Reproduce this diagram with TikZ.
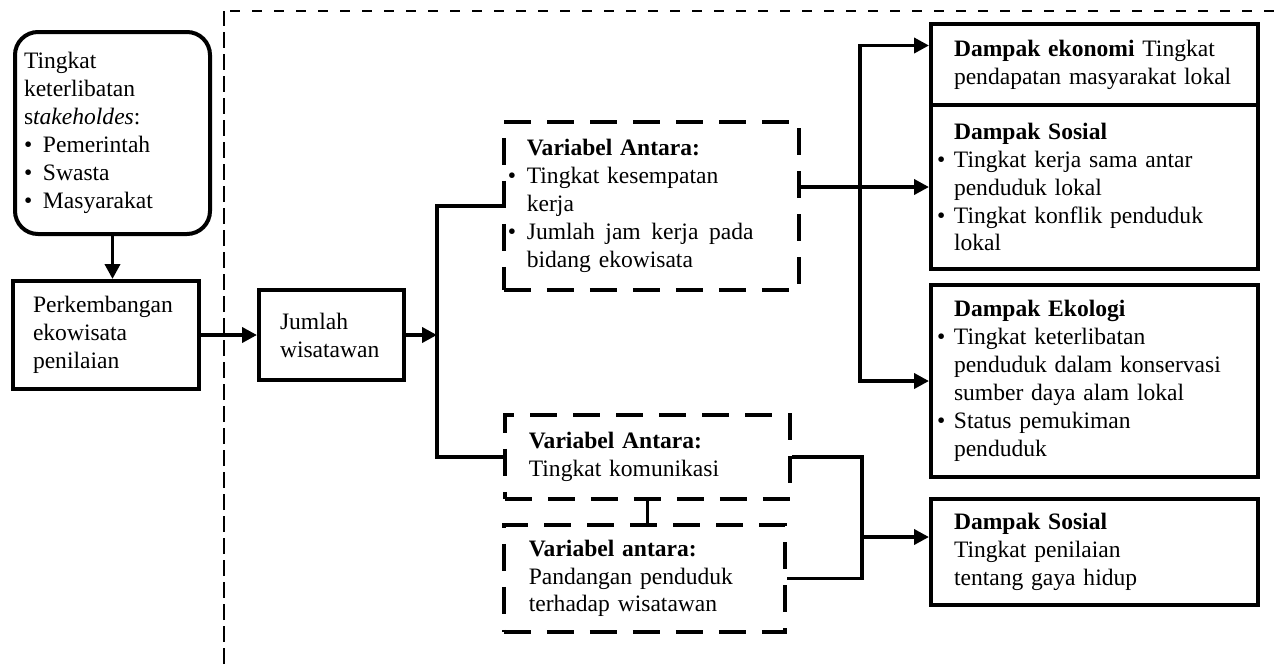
\documentclass[tikz,border=0pt]{standalone}
\usepackage{fontspec}
\setmainfont{Liberation Serif}
\usetikzlibrary{arrows.meta}

\newcommand{\bul}{\makebox[3.8mm][l]{\textbullet}}
\newcommand{\ind}{\hspace*{3.8mm}}
\newcommand{\bulr}{\makebox[3.4mm][l]{\textbullet}}
\newcommand{\indr}{\hspace*{3.4mm}}

\begin{document}
\begin{tikzpicture}[x=0.2mm, y=-0.2mm,
  every node/.style={font=\fontsize{13.4}{15.9}\selectfont, align=left, anchor=north west, inner ysep=0pt},
  box/.style={draw, line width=0.8mm},
  dbox/.style={draw, line width=0.75mm, dash pattern=on 5.4mm off 3.2mm},
  con/.style={line width=0.75mm},
  arr/.style={line width=0.75mm, -{Triangle[length=3mm,width=3mm]}}]

\useasboundingbox (0,0) rectangle (1281,666);

%garis batas
\draw [line width=0.35mm, dash pattern=on 3.2mm off 1.2mm] (224,664) -- (224,11);
\draw [line width=0.35mm, dash pattern=on 2mm off 2.4mm] (230,11) -- (1281,11);

%kiri
\node (stake) [box, rounded corners=4.6mm, inner xsep=1.8mm, text width=35.4mm, minimum height=40.4mm] at (13,30)
  {Tingkat\\keterlibatan\\s\textit{takeholdes}:\\\bul Pemerintah\\\bul Swasta\\\bul Masyarakat};
\node (perk) [box, inner xsep=4mm, text width=29.2mm, minimum height=21.6mm] at (11,279)
  {Perkembangan\\ekowisata\\penilaian};
\node (jml) [box, inner xsep=4.2mm, text width=20.6mm, minimum height=18mm] at (257,288)
  {Jumlah\\wisatawan};

%variabel antara
\node (va1) [dbox, inner xsep=0.8mm, text width=57.4mm, minimum height=33.6mm] at (502,120)
  {\ind\textbf{Variabel Antara:}\\\bul Tingkat kesempatan\\\ind kerja\\\bul Jumlah\hspace{0.45em}jam\hspace{0.45em}kerja\hspace{0.45em}pada\\\ind bidang ekowisata};
\node (va2) [dbox, inner xsep=4.8mm, text width=47.4mm, minimum height=16.8mm] at (503,413)
  {\textbf{Variabel Antara:}\\Tingkat komunikasi};
\node (va3) [dbox, inner xsep=5mm, text width=46.2mm, minimum height=21.4mm] at (502,523)
  {\textbf{Variabel antara:}\\Pandangan penduduk\\terhadap wisatawan};

%dampak
\node (eko) [box, inner xsep=1.2mm, text width=63mm, minimum height=16.2mm] at (929,22)
  {\indr\textbf{Dampak ekonomi} Tingkat\\\indr pendapatan masyarakat lokal};
\node (sos1) [box, inner xsep=1.2mm, text width=63mm, minimum height=32.8mm] at (929,103)
  {\indr\textbf{Dampak Sosial}\\\bulr Tingkat kerja sama antar\\\indr penduduk lokal\\\bulr Tingkat konflik penduduk\\\indr lokal};
\node (ekl) [box, inner xsep=1.2mm, text width=63mm, minimum height=38.4mm] at (929,283)
  {\indr\textbf{Dampak Ekologi}\\\bulr Tingkat keterlibatan\\\indr penduduk dalam konservasi\\\indr sumber daya alam lokal\\\bulr Status pemukiman\\\indr penduduk};
\node (sos2) [box, inner xsep=1.2mm, text width=63mm, minimum height=21.2mm] at (929,497)
  {\indr\textbf{Dampak Sosial}\\\indr Tingkat penilaian\\\indr tentang gaya hidup};

%panah
\coordinate (sp) at (437,330);
\coordinate (j1) at (860,187);
\coordinate (j2) at (862,537);

\draw [arr] (stake.south) -- (stake.south |- perk.north);
\draw [arr] (perk.east) -- (jml.west);
\draw [arr] (jml.east) -- (jml.east -| sp);
\draw [con] (va1.west) -| (sp) |- (va2.west);
\draw [con] (va2.south) -- (va2.south |- va3.north);

\draw [arr] (va1.east |- sos1.west) -- (sos1.west);
\draw [arr] (j1) |- ([yshift=3.8mm]eko.west);
\draw [arr] (j1) |- (ekl.west);

\draw [con] (va2.east) -| (j2) |- (va3.east);
\draw [arr] (j2) -- (j2 -| sos2.west);

\end{tikzpicture}
\end{document}
